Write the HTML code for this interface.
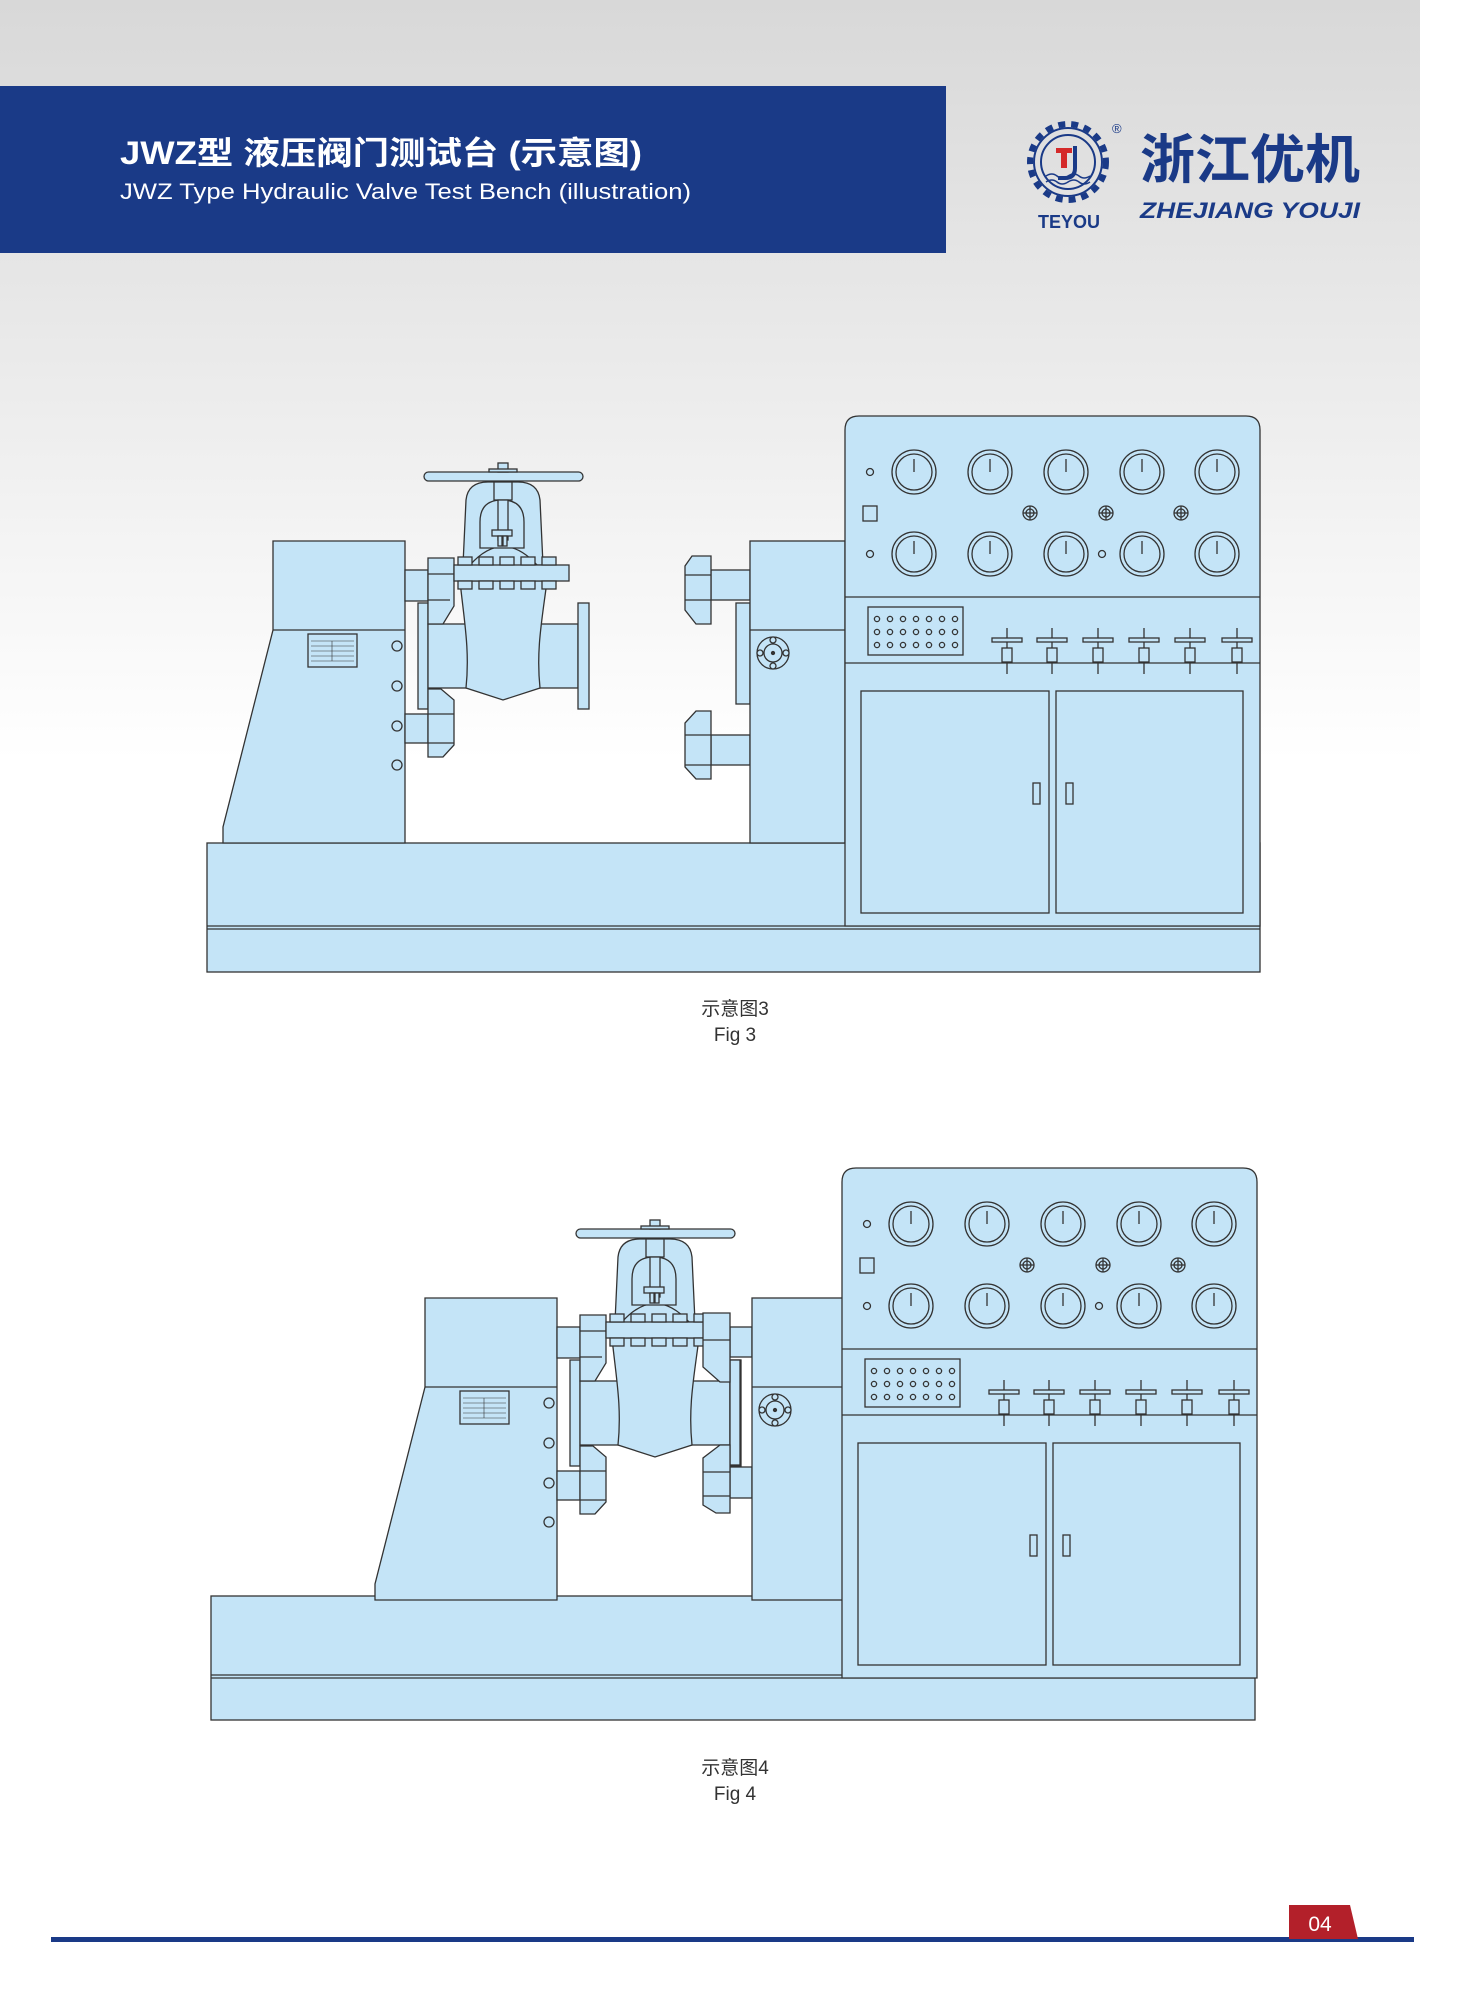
<!DOCTYPE html>
<html><head><meta charset="utf-8"><style>
html,body{margin:0;padding:0;background:#fff}
svg{display:block}
text{font-family:"Liberation Sans","Noto Sans CJK SC",sans-serif}
</style></head><body>
<svg width="1473" height="2000" viewBox="0 0 1473 2000" xmlns="http://www.w3.org/2000/svg">
<defs>
<linearGradient id="bg" x1="0" y1="0" x2="0" y2="1">
<stop offset="0" stop-color="#d8d8d8"/><stop offset="0.38" stop-color="#ffffff"/><stop offset="1" stop-color="#ffffff"/>
</linearGradient>
<g id="gauge"><circle r="22"/><circle r="18"/><line x1="0" y1="0" x2="0" y2="-13"/></g>
<g id="knob"><circle r="7"/><circle r="4"/><line x1="-7" y1="0" x2="7" y2="0"/><line x1="0" y1="-7" x2="0" y2="7"/></g>
<g id="valve"><line x1="0" y1="628" x2="0" y2="674"/><rect x="-15" y="638" width="30" height="4"/><rect x="-5" y="648" width="10" height="14"/></g>
<g id="panel">
<path d="M845,926 V430 Q845,416 859,416 H1246 Q1260,416 1260,430 V926 Z"/>
<line x1="845" y1="597" x2="1260" y2="597"/><line x1="845" y1="663" x2="1260" y2="663"/>
<use href="#gauge" x="914" y="472"/><use href="#gauge" x="990" y="472"/><use href="#gauge" x="1066" y="472"/><use href="#gauge" x="1142" y="472"/><use href="#gauge" x="1217" y="472"/>
<use href="#gauge" x="914" y="554"/><use href="#gauge" x="990" y="554"/><use href="#gauge" x="1066" y="554"/><use href="#gauge" x="1142" y="554"/><use href="#gauge" x="1217" y="554"/>
<circle cx="870" cy="472" r="3.5"/><circle cx="870" cy="554" r="3.5"/><circle cx="1102" cy="554" r="3.5"/>
<rect x="863" y="506" width="14" height="15"/>
<use href="#knob" x="1030" y="513"/><use href="#knob" x="1106" y="513"/><use href="#knob" x="1181" y="513"/>
<rect x="868" y="607" width="95" height="48"/>
<g fill="none">
<circle cx="877" cy="619" r="2.6"/><circle cx="890" cy="619" r="2.6"/><circle cx="903" cy="619" r="2.6"/><circle cx="916" cy="619" r="2.6"/><circle cx="929" cy="619" r="2.6"/><circle cx="942" cy="619" r="2.6"/><circle cx="955" cy="619" r="2.6"/>
<circle cx="877" cy="632" r="2.6"/><circle cx="890" cy="632" r="2.6"/><circle cx="903" cy="632" r="2.6"/><circle cx="916" cy="632" r="2.6"/><circle cx="929" cy="632" r="2.6"/><circle cx="942" cy="632" r="2.6"/><circle cx="955" cy="632" r="2.6"/>
<circle cx="877" cy="645" r="2.6"/><circle cx="890" cy="645" r="2.6"/><circle cx="903" cy="645" r="2.6"/><circle cx="916" cy="645" r="2.6"/><circle cx="929" cy="645" r="2.6"/><circle cx="942" cy="645" r="2.6"/><circle cx="955" cy="645" r="2.6"/>
</g>
<use href="#valve" x="1007"/><use href="#valve" x="1052"/><use href="#valve" x="1098"/><use href="#valve" x="1144"/><use href="#valve" x="1190"/><use href="#valve" x="1237"/>
<rect x="861" y="691" width="188" height="222"/><rect x="1056" y="691" width="187" height="222"/>
<rect x="1033" y="783" width="7" height="21"/><rect x="1066" y="783" width="7" height="21"/>
</g>
<g id="rblock">
<rect x="750" y="541" width="95" height="302"/><line x1="750" y1="630" x2="845" y2="630"/>
<circle cx="773" cy="653" r="16"/><circle cx="773" cy="653" r="9"/>
<circle cx="773" cy="640" r="3"/><circle cx="773" cy="666" r="3"/><circle cx="760" cy="653" r="3"/><circle cx="786" cy="653" r="3"/>
<circle cx="773" cy="653" r="1.5" fill="#333"/>
</g>
<g id="left">
<path d="M273,541 H405 V843 H223 V827 L273,630 Z"/><line x1="273" y1="630" x2="405" y2="630"/>
<rect x="308" y="634" width="49" height="33"/>
<g stroke-width="0.6"><line x1="311" y1="641" x2="354" y2="641"/><line x1="311" y1="646" x2="354" y2="646"/><line x1="311" y1="651" x2="354" y2="651"/><line x1="311" y1="656" x2="354" y2="656"/><line x1="311" y1="661" x2="354" y2="661"/><line x1="332" y1="641" x2="332" y2="661"/></g>
<circle cx="397" cy="646" r="5"/><circle cx="397" cy="686" r="5"/><circle cx="397" cy="726" r="5"/><circle cx="397" cy="765" r="5"/>
<rect x="405" y="570" width="23" height="31"/><rect x="405" y="714" width="23" height="29"/><rect x="418" y="603" width="10" height="106"/>
<rect x="428" y="624" width="150" height="64"/>
<rect x="578" y="603" width="11" height="106"/>
<path d="M428,558 H454 V606 L443,624 H428 Z"/><line x1="428" y1="574" x2="454" y2="574"/><line x1="428" y1="600" x2="450" y2="600"/>
<path d="M428,689 H441 L454,700 V745 L443,757 H428 Z"/><line x1="428" y1="714" x2="454" y2="714"/><line x1="428" y1="743" x2="454" y2="743"/>
<path d="M460,581 C464,620 470,650 466,688 L503,700 L540,688 C536,650 542,620 547,581 Z"/>
<path d="M463,565 L466,500 Q468,482 488,482 L518,482 Q538,482 540,500 L543,565 Z"/>
<path d="M470,565 Q503,528 537,565"/>
<path d="M480,548 L480,522 Q480,500 502,500 Q524,500 524,522 L524,548 Z" fill="#c4e4f7"/>
<rect x="494" y="482" width="18" height="18"/>
<rect x="498" y="500" width="10" height="40"/><rect x="492" y="530" width="20" height="6"/>
<rect x="498" y="536" width="4" height="10"/><rect x="503" y="536" width="4" height="10"/>
<rect x="454" y="565" width="115" height="16"/>
<rect x="458" y="557" width="14" height="8"/><rect x="479" y="557" width="14" height="8"/><rect x="500" y="557" width="14" height="8"/><rect x="521" y="557" width="14" height="8"/><rect x="542" y="557" width="14" height="8"/>
<rect x="458" y="581" width="14" height="8"/><rect x="479" y="581" width="14" height="8"/><rect x="500" y="581" width="14" height="8"/><rect x="521" y="581" width="14" height="8"/><rect x="542" y="581" width="14" height="8"/>
<rect x="424" y="472" width="159" height="9" rx="4.5"/>
<rect x="498" y="463" width="10" height="9"/><rect x="489" y="469" width="28" height="3"/>
</g>
</defs>
<rect x="0" y="0" width="1420" height="2000" fill="url(#bg)"/>
<rect x="0" y="86" width="946" height="167" fill="#1a3a87"/>
<text x="120" y="164" font-size="32" font-weight="bold" fill="#fff" textLength="522" lengthAdjust="spacingAndGlyphs">JWZ型 液压阀门测试台 (示意图)</text>
<text x="120" y="199" font-size="22" fill="#fff" textLength="571" lengthAdjust="spacingAndGlyphs">JWZ Type Hydraulic Valve Test Bench (illustration)</text>
<!-- logo -->
<g fill="none" stroke="#1a3a87" stroke-width="2">
<circle cx="1068" cy="162" r="34"/><circle cx="1068" cy="162" r="27"/>
<g stroke-width="6" stroke-dasharray="7 6"><circle cx="1068" cy="162" r="38"/></g>
<path d="M1046,176 q6,-4 11,0 t11,0 t11,0 t11,0" stroke-width="1.5"/><path d="M1046,182 q6,-4 11,0 t11,0 t11,0 t11,0" stroke-width="1.5"/>
</g>
<rect x="1056" y="148" width="16" height="5" fill="#d42a2a"/><rect x="1061" y="148" width="6" height="20" fill="#d42a2a"/>
<path d="M1075,146 V168 Q1075,178 1065,178 H1058" fill="none" stroke="#1a3a87" stroke-width="4"/>
<text x="1112" y="133" font-size="13" fill="#1a3a87">®</text>
<text x="1069" y="228" font-size="18" font-weight="bold" fill="#1a3a87" text-anchor="middle">TEYOU</text>
<text x="1140" y="178" font-size="53" font-weight="bold" fill="#1a3a87" textLength="220" lengthAdjust="spacingAndGlyphs">浙江优机</text>
<text x="1140" y="218" font-size="22" font-weight="bold" font-style="italic" fill="#1a3a87" textLength="220" lengthAdjust="spacingAndGlyphs">ZHEJIANG YOUJI</text>
<!-- fig 3 -->
<g fill="#c4e4f7" stroke="#333" stroke-width="1.3">
<rect x="207" y="843" width="1053" height="129"/><line x1="207" y1="926" x2="1260" y2="926"/><line x1="207" y1="929" x2="1260" y2="929"/>
<use href="#left"/>
<rect x="711" y="570" width="39" height="30"/><rect x="711" y="735" width="39" height="30"/><rect x="736" y="603" width="14" height="101"/>
<path d="M692,556 H711 V624 H696 L685,610 V566 Z"/><line x1="685" y1="575" x2="711" y2="575"/><line x1="685" y1="600" x2="711" y2="600"/>
<path d="M696,711 H711 V779 H696 L685,767 V723 Z"/><line x1="685" y1="735" x2="711" y2="735"/><line x1="685" y1="765" x2="711" y2="765"/>
<use href="#rblock"/>
<use href="#panel"/>
</g>
<text x="735" y="1015" font-size="19" fill="#333" text-anchor="middle">示意图3</text>
<text x="735" y="1041" font-size="19" fill="#333" text-anchor="middle">Fig 3</text>
<!-- fig 4 -->
<g fill="#c4e4f7" stroke="#333" stroke-width="1.3">
<rect x="211" y="1596" width="1044" height="124"/><line x1="211" y1="1675" x2="1255" y2="1675"/><line x1="211" y1="1678" x2="1255" y2="1678"/>
<use href="#left" transform="translate(152,757)"/>
<rect x="730" y="1327" width="22" height="30"/><rect x="730" y="1467" width="22" height="31"/><rect x="730" y="1360" width="10" height="105"/>
<path d="M703,1313 H730 V1382 H720 L703,1367 Z"/><line x1="703" y1="1340" x2="730" y2="1340"/>
<path d="M720,1445 H730 V1513 H716 L703,1505 V1458 Z"/><line x1="703" y1="1472" x2="730" y2="1472"/><line x1="703" y1="1496" x2="730" y2="1496"/>
<use href="#rblock" transform="translate(2,757)"/>
<use href="#panel" transform="translate(-3,752)"/>
</g>
<text x="735" y="1774" font-size="19" fill="#333" text-anchor="middle">示意图4</text>
<text x="735" y="1800" font-size="19" fill="#333" text-anchor="middle">Fig 4</text>
<!-- footer -->
<rect x="51" y="1937" width="1363" height="5" fill="#1a3a87"/>
<path d="M1289,1905 H1350 L1358,1939 H1289 Z" fill="#b3202a"/>
<text x="1320" y="1931" font-size="21" fill="#fff" text-anchor="middle">04</text>
</svg>
</body></html>
